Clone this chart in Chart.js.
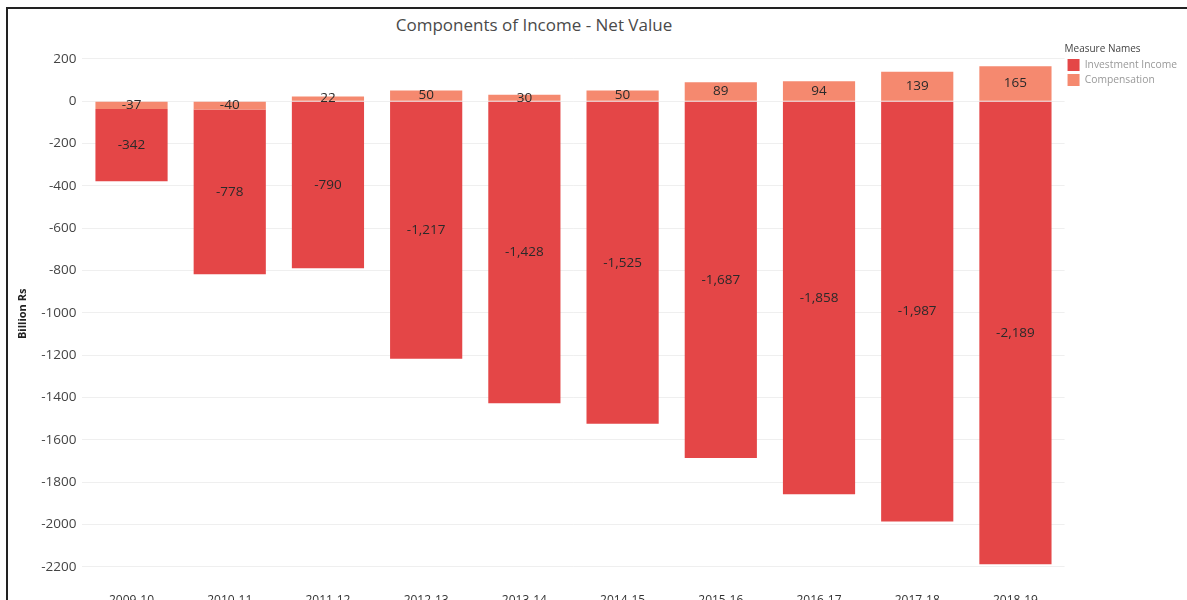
<!DOCTYPE html>
<html>
<head>
<meta charset="utf-8">
<script src="https://cdn.jsdelivr.net/npm/chart.js@4.4.1/dist/chart.umd.min.js"></script>
<style>
  body { margin: 0; background: #fff; overflow: hidden; font-family: "Open Sans", sans-serif; }
  #frame { position: absolute; left: 6px; top: 7px; width: 1190px; height: 610px;
           border-top: 2px solid #222; border-left: 2px solid #222; }
  #titulo { position: absolute; top: 13px; left: 334px; width: 400px; text-align: center;
            font-size: 17px; color: #4a4a4a; }
  #wrap { position: absolute; left: 0; top: 0; width: 1187px; height: 610px; }
</style>
</head>
<body>
<div id="frame"></div>
<div id="titulo">Components of Income - Net Value</div>
<div id="wrap"><canvas id="Grafica1"></canvas></div>
<script>
const periodos = ['2009-10','2010-11','2011-12','2012-13','2013-14','2014-15','2015-16','2016-17','2017-18','2018-19'];
const inversion = [-342,-778,-790,-1217,-1428,-1525,-1687,-1858,-1987,-2189];
const compensacion = [-37,-40,22,50,30,50,89,94,139,165];
const marcasY = [200,0,-200,-400,-600,-800,-1000,-1200,-1400,-1600,-1800,-2000,-2200];

const colorInversion = '#e44647';
const colorCompensacion = '#f5896f';

// etiquetas de valor en el centro de cada segmento
const etiquetas = {
  id: 'etiquetas',
  afterDatasetsDraw(chart) {
    const ctx = chart.ctx;
    ctx.save();
    ctx.font = '13.5px "Open Sans"';
    ctx.fillStyle = '#2a2a2a';
    ctx.textAlign = 'center';
    ctx.textBaseline = 'middle';
    chart.data.datasets.forEach((ds, i) => {
      chart.getDatasetMeta(i).data.forEach((bar, j) => {
        const p = bar.getCenterPoint();
        ctx.fillText(ds.data[j].toLocaleString('en-US'), p.x, p.y);
      });
    });
    ctx.restore();
  }
};

const grafica1 = document.getElementById('Grafica1').getContext('2d');
new Chart(grafica1, {
  type: 'bar',
  data: {
    labels: periodos,
    datasets: [
      { label: 'Compensation', data: compensacion, backgroundColor: colorCompensacion,
        categoryPercentage: 1, barPercentage: 0.735 },
      { label: 'Investment Income', data: inversion, backgroundColor: colorInversion,
        categoryPercentage: 1, barPercentage: 0.735 }
    ]
  },
  options: {
    responsive: true,
    maintainAspectRatio: false,
    animation: false,
    layout: { padding: { top: 44, left: 10, right: 0, bottom: 0 } },
    plugins: {
      title: { display: false },
      tooltip: { enabled: false },
      legend: {
        position: 'right',
        align: 'start',
        reverse: true,
        title: { display: true, text: 'Measure Names', color: '#444', position: 'start',
                 font: { family: 'Open Sans', size: 10 }, padding: { top: 0, bottom: 0 } },
        labels: { boxWidth: 12, boxHeight: 12, color: '#999', padding: 3,
                  font: { family: 'Open Sans', size: 10.3 } }
      }
    },
    scales: {
      x: {
        stacked: true,
        grid: { display: false },
        border: { display: false },
        ticks: { color: '#333', font: { family: 'Open Sans', size: 12 }, padding: 2, maxRotation: 0 }
      },
      y: {
        stacked: true,
        min: -2280,
        max: 270,
        afterBuildTicks: axis => { axis.ticks = marcasY.map(v => ({ value: v })); },
        grid: { color: '#efefef', drawTicks: false },
        border: { display: false },
        ticks: { color: '#444', padding: 6, autoSkip: false,
                 font: { family: 'Open Sans', size: 13.5 }, callback: v => String(v) },
        title: { display: true, text: 'Billion Rs', color: '#222',
                 font: { family: 'Open Sans', size: 11, weight: 'bold' }, padding: 6 }
      }
    }
  },
  plugins: [etiquetas]
});
</script>
</body>
</html>
